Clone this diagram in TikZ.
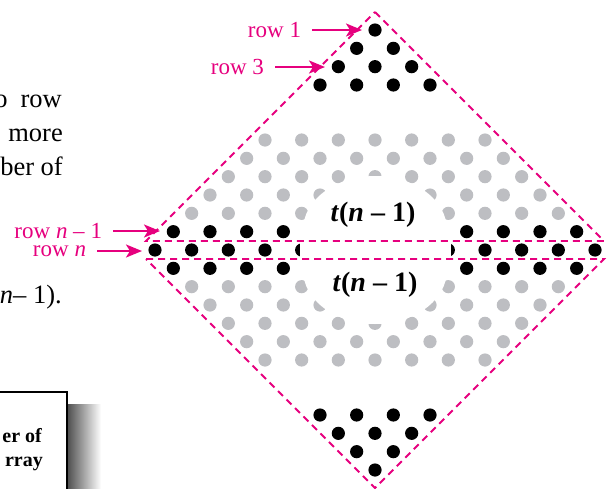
\documentclass[tikz,border=0pt]{standalone}
\usepackage{fontspec}
\setmainfont{Liberation Serif}
\usetikzlibrary{arrows.meta}
\definecolor{rowpink}{RGB}{230,0,126}
\definecolor{dotgrey}{RGB}{189,190,194}
\begin{document}
\begin{tikzpicture}[
    x=1pt, y=-1pt,
    blackdot/.style = {fill=black},
    greydot/.style  = {fill=dotgrey},
    blank/.style    = {fill=white},
    cutline/.style  = {draw=rowpink, line width=1.8pt, dash pattern=on 7pt off 5pt},
    rowlabel/.style = {text=rowpink, font=\fontsize{23}{26}\selectfont,
                       inner sep=0pt, outer xsep=11pt, anchor=east},
    rowarrow/.style = {draw=rowpink, line width=2.2pt,
                       -{Stealth[length=16pt, width=13pt, inset=4pt]}},
    count/.style    = {font=\fontsize{28}{30}\selectfont\bfseries, inner sep=0pt},
    body/.style     = {font=\fontsize{26.5}{30}\selectfont, inner sep=0pt, anchor=base east},
    boxtext/.style  = {font=\fontsize{20}{24}\selectfont\bfseries, inner sep=0pt, anchor=base east},
  ]
  \useasboundingbox (0,0) rectangle (607,488);
  \foreach \r/\c/\s in {1/1/blackdot, 2/2/blackdot, 3/3/blackdot, 4/4/blackdot,
      7/7/greydot, 8/8/greydot, 9/9/greydot, 10/10/greydot, 11/11/greydot,
      12/12/blackdot, 13/13/blackdot, 14/12/blackdot,
      15/11/greydot, 16/10/greydot, 17/9/greydot, 18/8/greydot, 19/7/greydot,
      22/4/blackdot, 23/3/blackdot, 24/2/blackdot, 25/1/blackdot}
    \foreach \j in {1,...,\c}
      \fill[\s] ({375+(\j-(\c+1)/2)*36.667},{30+(\r-1)*18.333}) circle (6.6pt);
  \fill[blank] (375,230) ellipse [x radius=72pt, y radius=54pt];
  \fill[blank] (375,270) ellipse [x radius=72pt, y radius=54pt];
  \fill[blank] (300,243) rectangle (451,257);
  \draw[cutline] (375,12) -- (604,241) -- (146,241) -- cycle;
  \draw[cutline] (146,259) -- (604,259) -- (375,488) -- cycle;
  \node[count] (upper) at (373,215) {\textit{t}(\textit{n} – 1)};
  \node[count] (lower) at (375,285) {\textit{t}(\textit{n} – 1)};

  \coordinate (r1tip) at (362,30);
  \coordinate (r3tip) at (325,67);
  \coordinate (rn1tip) at (160,231);
  \coordinate (rntip) at (142,251);
  \node[rowlabel] (r1) at (312,30) {row 1};
  \node[rowlabel] (r3) at (275,67) {row 3};
  \node[rowlabel] (rn1) at (113,231) {row \textit{n} – 1};
  \node[rowlabel] (rn) at (97,251) {row \textit{n}};
  \draw[rowarrow] (r1.east) -- (r1tip);
  \draw[rowarrow] (r3.east) -- (r3tip);
  \draw[rowarrow] (rn1.east) -- (rn1tip);
  \draw[rowarrow] (rn.east) -- (rntip);

  \node[body] (line1) at (62,107) {o\hspace{13pt}row};
  \node[body] (line2) at (63,141) {more};
  \node[body] (line3) at (63,175) {ber of};
  \node[body] (line4) at (62,303) {\textit{n}– 1).};

  \shade[left color=black!70, right color=white] (67,404) rectangle (101,488);
  \draw[line width=2.5pt, fill=white] (-20,392) rectangle (67,500);
  \node[boxtext] (box1) at (42,442) {er of};
  \node[boxtext] (box2) at (43,466) {rray};
\end{tikzpicture}
\end{document}
